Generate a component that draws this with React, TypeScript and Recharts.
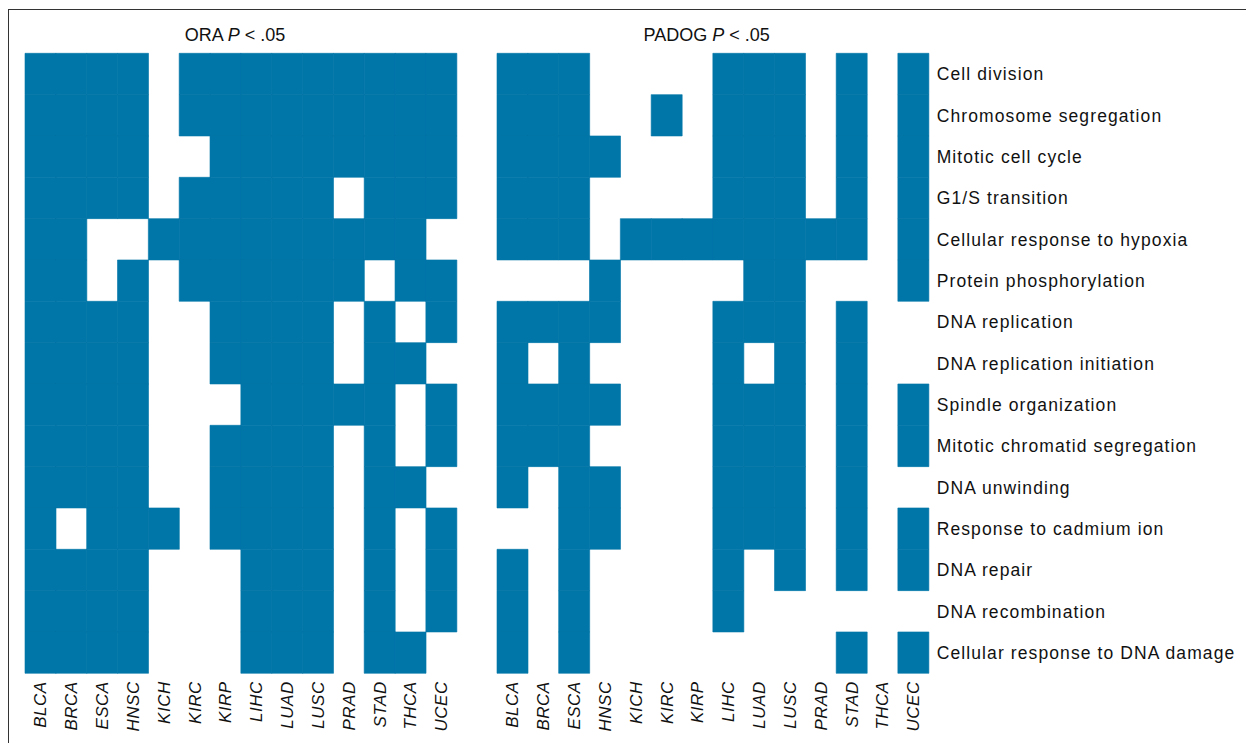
import * as React from 'react';
import { BarChart, Bar, XAxis, YAxis, Cell } from 'recharts';

const cancers = ['BLCA', 'BRCA', 'ESCA', 'HNSC', 'KICH', 'KIRC', 'KIRP', 'LIHC', 'LUAD', 'LUSC', 'PRAD', 'STAD', 'THCA', 'UCEC'];

const pathways = [
  'Cell division',
  'Chromosome segregation',
  'Mitotic cell cycle',
  'G1/S transition',
  'Cellular response to hypoxia',
  'Protein phosphorylation',
  'DNA replication',
  'DNA replication initiation',
  'Spindle organization',
  'Mitotic chromatid segregation',
  'DNA unwinding',
  'Response to cadmium ion',
  'DNA repair',
  'DNA recombination',
  'Cellular response to DNA damage',
];

// 1 = P < .05 (one row per pathway, one column per cancer type)
const oraSig = [
  [1, 1, 1, 1, 0, 1, 1, 1, 1, 1, 1, 1, 1, 1],
  [1, 1, 1, 1, 0, 1, 1, 1, 1, 1, 1, 1, 1, 1],
  [1, 1, 1, 1, 0, 0, 1, 1, 1, 1, 1, 1, 1, 1],
  [1, 1, 1, 1, 0, 1, 1, 1, 1, 1, 0, 1, 1, 1],
  [1, 1, 0, 0, 1, 1, 1, 1, 1, 1, 1, 1, 1, 0],
  [1, 1, 0, 1, 0, 1, 1, 1, 1, 1, 1, 0, 1, 1],
  [1, 1, 1, 1, 0, 0, 1, 1, 1, 1, 0, 1, 0, 1],
  [1, 1, 1, 1, 0, 0, 1, 1, 1, 1, 0, 1, 1, 0],
  [1, 1, 1, 1, 0, 0, 0, 1, 1, 1, 1, 1, 0, 1],
  [1, 1, 1, 1, 0, 0, 1, 1, 1, 1, 0, 1, 0, 1],
  [1, 1, 1, 1, 0, 0, 1, 1, 1, 1, 0, 1, 1, 0],
  [1, 0, 1, 1, 1, 0, 1, 1, 1, 1, 0, 1, 0, 1],
  [1, 1, 1, 1, 0, 0, 0, 1, 1, 1, 0, 1, 0, 1],
  [1, 1, 1, 1, 0, 0, 0, 1, 1, 1, 0, 1, 0, 1],
  [1, 1, 1, 1, 0, 0, 0, 1, 1, 1, 0, 1, 1, 0],
];

const padogSig = [
  [1, 1, 1, 0, 0, 0, 0, 1, 1, 1, 0, 1, 0, 1],
  [1, 1, 1, 0, 0, 1, 0, 1, 1, 1, 0, 1, 0, 1],
  [1, 1, 1, 1, 0, 0, 0, 1, 1, 1, 0, 1, 0, 1],
  [1, 1, 1, 0, 0, 0, 0, 1, 1, 1, 0, 1, 0, 1],
  [1, 1, 1, 0, 1, 1, 1, 1, 1, 1, 1, 1, 0, 1],
  [0, 0, 0, 1, 0, 0, 0, 0, 1, 1, 0, 0, 0, 1],
  [1, 1, 1, 1, 0, 0, 0, 1, 1, 1, 0, 1, 0, 0],
  [1, 0, 1, 0, 0, 0, 0, 1, 0, 1, 0, 1, 0, 0],
  [1, 1, 1, 1, 0, 0, 0, 1, 1, 1, 0, 1, 0, 1],
  [1, 1, 1, 0, 0, 0, 0, 1, 1, 1, 0, 1, 0, 1],
  [1, 0, 1, 1, 0, 0, 0, 1, 1, 1, 0, 1, 0, 0],
  [0, 0, 1, 1, 0, 0, 0, 1, 1, 1, 0, 1, 0, 1],
  [1, 0, 1, 0, 0, 0, 0, 1, 0, 1, 0, 1, 0, 1],
  [1, 0, 1, 0, 0, 0, 0, 1, 0, 0, 0, 0, 0, 0],
  [1, 0, 1, 0, 0, 0, 0, 0, 0, 0, 0, 1, 0, 1],
];

const BLUE = '#0076a8';
const FONT = '"Liberation Sans", Arial, Helvetica, sans-serif';
const rowTicks = pathways.map((_, i) => i + 0.5);

// every cell is one unit tall; colour comes from the significance matrix
const gridData = cancers.map((name) => {
  const row: Record<string, string | number> = { name };
  pathways.forEach((_, i) => { row['p' + i] = 1; });
  return row;
});

const CancerTick = (props: any) => {
  const { x, y, payload } = props;
  return (
    <text
      transform={`translate(${x + 6},${y}) rotate(-90)`}
      textAnchor="end"
      fontFamily={FONT}
      fontSize={17}
      fontStyle="italic"
      letterSpacing={0.5}
      fill="#111"
    >
      {payload.value}
    </text>
  );
};

function Heatmap({ sig, labels, width, margin }: { sig: number[][]; labels: boolean; width: number; margin: any }) {
  return (
    <BarChart width={width} height={735} data={gridData} margin={margin} barCategoryGap={0} barGap={0}>
      <XAxis
        dataKey="name"
        interval={0}
        tickLine={false}
        axisLine={false}
        tickSize={0}
        tickMargin={8}
        height={60}
        tick={<CancerTick />}
      />
      <YAxis
        type="number"
        domain={[0, 15]}
        reversed
        hide={!labels}
        orientation="right"
        ticks={rowTicks}
        interval={0}
        tickFormatter={(v: number) => pathways[Math.floor(v)]}
        tickLine={false}
        axisLine={false}
        tickSize={0}
        tickMargin={8}
        width={310}
        tick={{ fontFamily: FONT, fontSize: 17.5, letterSpacing: 1.1, fill: '#111', textAnchor: 'start' }}
      />
      {pathways.map((p, ri) => (
        <Bar key={p} dataKey={'p' + ri} stackId="grid" isAnimationActive={false}>
          {cancers.map((c, ci) => (
            <Cell
              key={c}
              fill={sig[ri][ci] ? BLUE : 'transparent'}
              stroke={sig[ri][ci] ? BLUE : 'none'}
              strokeWidth={0.6}
            />
          ))}
        </Bar>
      ))}
    </BarChart>
  );
}

const titleStyle: React.CSSProperties = {
  position: 'absolute',
  top: 17.8,
  width: 200,
  textAlign: 'center',
  fontFamily: FONT,
  fontSize: 18,
  lineHeight: '18px',
  color: '#111',
  whiteSpace: 'nowrap',
};

export default function App() {
  return (
    <div style={{ position: 'relative', width: 1240, height: 735, overflow: 'hidden', background: '#fff' }}>
      <div
        style={{
          position: 'absolute',
          left: 0,
          top: 0.5,
          width: 1241,
          height: 800,
          boxSizing: 'border-box',
          border: '1.5px solid #333',
        }}
      />
      <div style={{ ...titleStyle, left: 127 }}>
        ORA <i>P</i> &lt; .05
      </div>
      <div style={{ ...titleStyle, left: 598.7 }}>
        PADOG <i>P</i> &lt; .05
      </div>
      <div style={{ position: 'absolute', left: 0, top: 0 }}>
        <Heatmap sig={oraSig} labels={false} width={470} margin={{ top: 45.3, left: 17, right: 21.3, bottom: 9.7 }} />
      </div>
      <div style={{ position: 'absolute', left: 470, top: 0 }}>
        <Heatmap sig={padogSig} labels width={770} margin={{ top: 45.3, left: 19, right: 9.3, bottom: 9.7 }} />
      </div>
    </div>
  );
}
